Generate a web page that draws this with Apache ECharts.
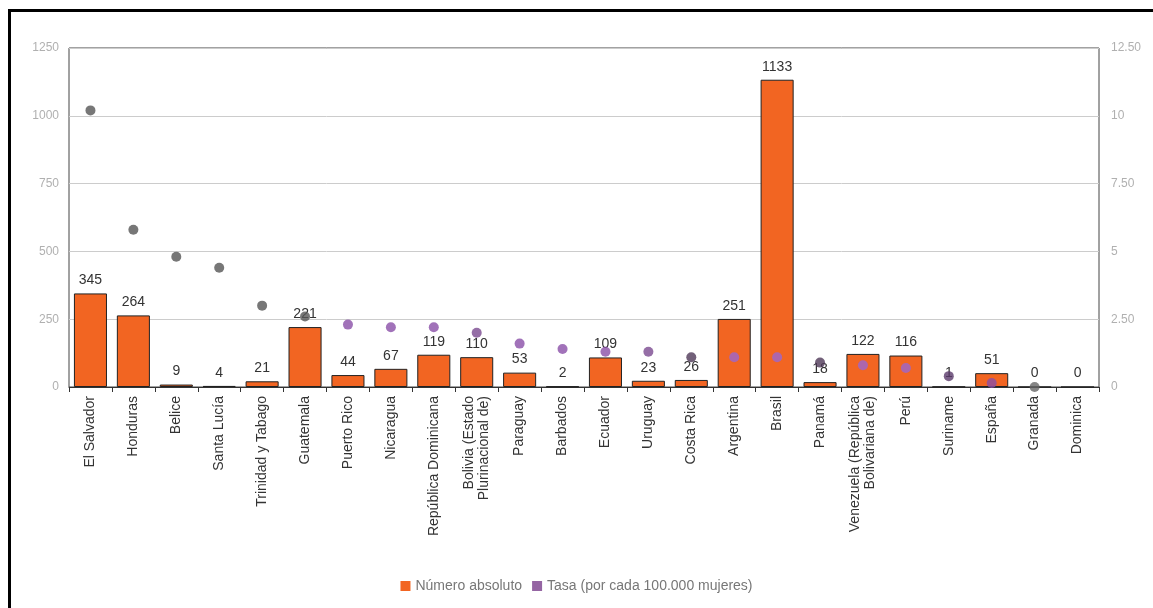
<!DOCTYPE html>
<html>
<head>
<meta charset="utf-8">
<script src="https://cdn.jsdelivr.net/npm/echarts@6/dist/echarts.min.js"></script>
<style>
  html, body { margin: 0; padding: 0; background: #fff; }
  #main { width: 1153px; height: 608px; }
</style>
</head>
<body>
<div id="main"></div>
<script>
const countries = ['El Salvador', 'Honduras', 'Belice', 'Santa Lucía', 'Trinidad y Tabago', 'Guatemala',
  'Puerto Rico', 'Nicaragua', 'República Dominicana', 'Bolivia (Estado\nPlurinacional de)', 'Paraguay',
  'Barbados', 'Ecuador', 'Uruguay', 'Costa Rica', 'Argentina', 'Brasil', 'Panamá',
  'Venezuela (República\nBolivariana de)', 'Perú', 'Suriname', 'España', 'Granada', 'Dominica'];
const absoluto = [345, 264, 9, 4, 21, 221, 44, 67, 119, 110, 53, 2, 109, 23, 26, 251, 1133, 18, 122, 116, 1, 51, 0, 0];
const tasa = [10.2, 5.8, 4.8, 4.4, 3.0, 2.6, 2.3, 2.2, 2.2, 2.0, 1.6, 1.4, 1.3, 1.3, 1.1, 1.1, 1.1, 0.9, 0.8, 0.7, 0.4, 0.15, 0.0, null];
const leftTicks = [0, 250, 500, 750, 1000, 1250];
const rightTicks = [0, 2.5, 5, 7.5, 10, 12.5];

// dot colours as seen in the picture (grey for the first group, purple for the rest)
const dotColors = ['#555', '#555', '#555', '#555', '#555', '#555',
  '#8a4fa8', '#8a4fa8', '#8a4fa8', '#7a4a90', '#8a4fa8', '#8a4fa8', '#8a4fa8', '#7a4a90',
  '#4f3858', '#9a66d0', '#9a66d0', '#4f3858', '#9a66d0', '#9a66d0', '#5a3a6a', '#8a4fa8', '#666', '#666'];

const chart = echarts.init(document.getElementById('main'));

const option = {
  animation: false,
  textStyle: { fontFamily: 'Arial, "Liberation Sans", sans-serif' },
  graphic: [{
    type: 'rect',
    shape: { x: 9.5, y: 10.5, width: 1160, height: 640 },
    style: { fill: 'none', stroke: '#000', lineWidth: 3 },
    silent: true
  }],
  legend: {
    bottom: 10,
    left: 'center',
    itemWidth: 10,
    itemHeight: 10,
    itemGap: 10,
    textStyle: { color: '#777', fontSize: 14 },
    data: [
      { name: 'Número absoluto', icon: 'rect', itemStyle: { color: '#f26522', borderWidth: 0 } },
      { name: 'Tasa (por cada 100.000 mujeres)', icon: 'rect', itemStyle: { color: '#7b3f8c', borderWidth: 0 } }
    ]
  },
  grid: {
    left: 69, right: 54, top: 48, bottom: 221,
    show: true, borderColor: '#444', borderWidth: 1
  },
  xAxis: {
    type: 'category',
    data: countries,
    axisLine: { lineStyle: { color: '#333' } },
    axisTick: { show: true, length: 5, lineStyle: { color: '#333' } },
    axisLabel: {
      rotate: 90, interval: 0, color: '#333', fontSize: 14, margin: 9, lineHeight: 15
    }
  },
  yAxis: [
    {
      type: 'value', min: 0, max: leftTicks[leftTicks.length - 1], interval: 250,
      axisLine: { show: false }, axisTick: { show: false },
      axisLabel: { color: '#b0b0b0', fontSize: 12, margin: 10, formatter: v => String(v) },
      splitLine: { lineStyle: { color: '#ccc' } }
    },
    {
      type: 'value', min: 0, max: rightTicks[rightTicks.length - 1], interval: 2.5,
      axisLine: { show: false }, axisTick: { show: false },
      axisLabel: {
        color: '#b0b0b0', fontSize: 12, margin: 12,
        formatter: v => (v % 1 === 0 ? String(v) : v.toFixed(2))
      },
      splitLine: { show: false }
    }
  ],
  series: [
    {
      name: 'Número absoluto',
      type: 'bar',
      yAxisIndex: 0,
      data: absoluto,
      barWidth: '77%',
      itemStyle: { color: '#f26522', borderColor: '#222', borderWidth: 1 },
      label: { show: true, position: 'top', color: '#333', fontSize: 14, distance: 6 }
    },
    {
      name: 'Tasa (por cada 100.000 mujeres)',
      type: 'scatter',
      yAxisIndex: 1,
      symbol: 'circle',
      symbolSize: 10,
      data: tasa.map((v, i) => ({ value: v, itemStyle: { color: dotColors[i] } })),
      z: 3
    }
  ]
};

chart.setOption(option);
</script>
</body>
</html>
